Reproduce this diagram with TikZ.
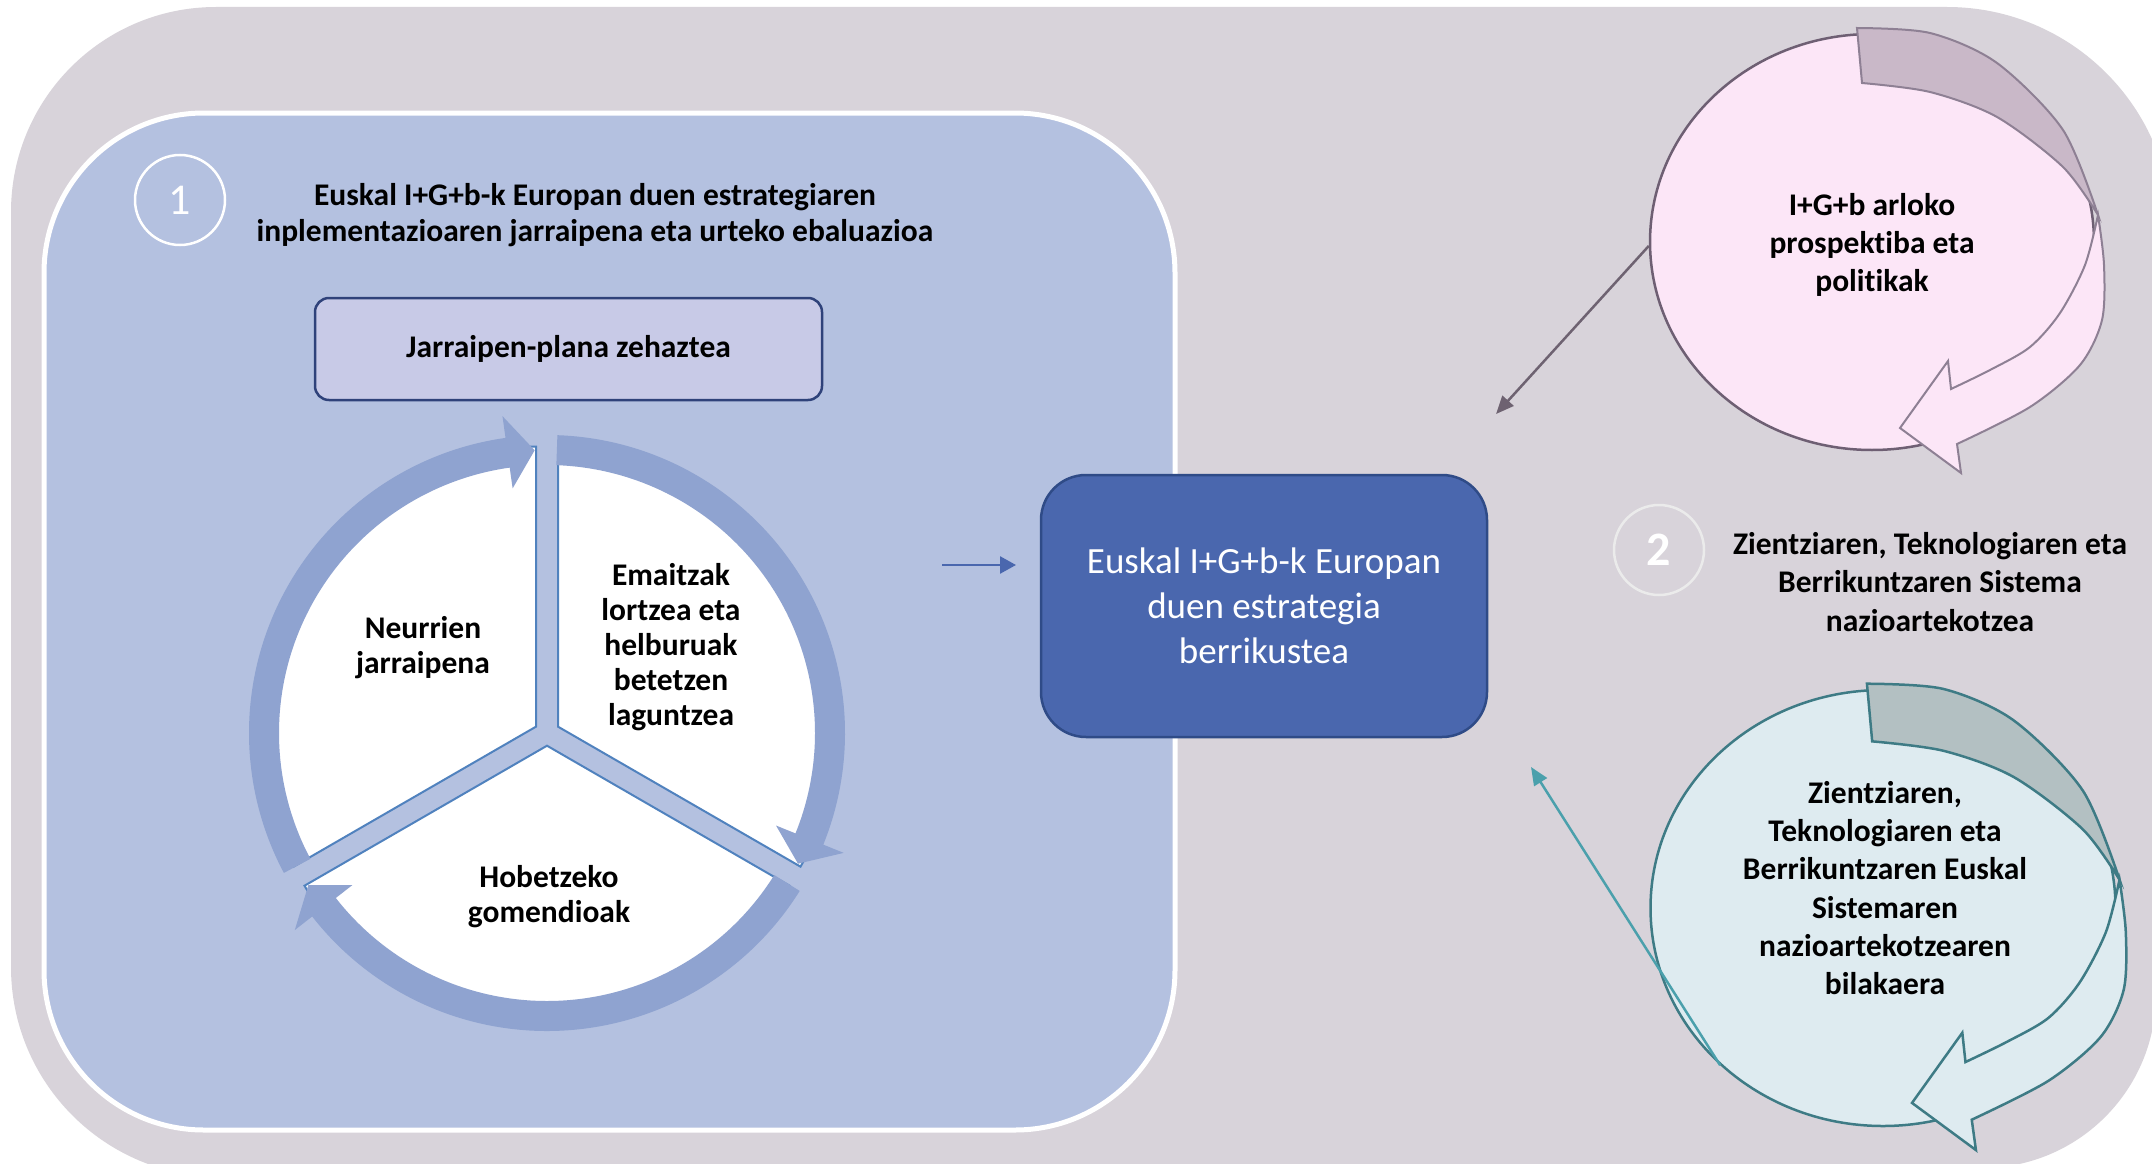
\documentclass[tikz,border=0pt]{standalone}
\usepackage{fontspec}
\setmainfont{Carlito}[Ligatures=NoCommon]
\usetikzlibrary{arrows.meta, shapes.geometric, positioning, calc}
\definecolor{bggray}{RGB}{216,211,218}
\definecolor{panelblue}{RGB}{180,193,224}
\definecolor{ringblue}{RGB}{143,163,208}
\definecolor{sectorline}{RGB}{80,130,190}
\definecolor{planlav}{RGB}{200,202,231}
\definecolor{planline}{RGB}{47,66,122}
\definecolor{reviewblue}{RGB}{74,103,174}
\definecolor{reviewline}{RGB}{47,75,135}
\definecolor{pinkfill}{RGB}{252,230,247}
\definecolor{pinkback}{RGB}{201,184,200}
\definecolor{pinkline}{RGB}{142,128,148}
\definecolor{pinkrim}{RGB}{110,95,115}
\definecolor{tealfill}{RGB}{222,235,240}
\definecolor{tealback}{RGB}{179,192,194}
\definecolor{tealline}{RGB}{62,123,133}
\definecolor{linkpurple}{RGB}{110,98,113}
\definecolor{linkteal}{RGB}{75,160,172}
\tikzset{
  stage/.style={rectangle,draw=white,line width=5pt,fill=panelblue,rounded corners=160pt,inner sep=0pt},
  numcirc/.style={circle,draw=white,line width=2.5pt,minimum size=90pt,inner sep=0pt,text=white,font=\fontsize{44}{44}\selectfont},
  numcircb/.style={numcirc,draw=white!92!black,font=\fontsize{48}{48}\selectfont\bfseries},
  lbl/.style={align=center,inner sep=0pt,font=\fontsize{31.5}{38.3}\selectfont\bfseries},
  titlelbl/.style={lbl,font=\fontsize{31.5}{36}\selectfont\bfseries},
  sectorlbl/.style={lbl,font=\fontsize{31.5}{35}\selectfont\bfseries},
  planbox/.style={rectangle,rounded corners=14pt,fill=planlav,draw=planline,line width=2.5pt,minimum width=507pt,minimum height=102pt,font=\fontsize{31.5}{36}\selectfont\bfseries},
  reviewbox/.style={rectangle,rounded corners=45pt,fill=reviewblue,draw=reviewline,line width=2.5pt,minimum width=446pt,minimum height=262pt,text=white,align=center,font=\fontsize{37}{45}\selectfont},
  sector/.style={fill=white,draw=sectorline,line width=2pt},
  ringarrow/.style={fill=ringblue},
  pinkcirc/.style={ellipse,fill=pinkfill,draw=pinkrim,line width=2.5pt,minimum width=444pt,minimum height=416pt},
  tealcirc/.style={ellipse,fill=tealfill,draw=tealline,line width=2.5pt,minimum width=465pt,minimum height=436pt},
  pinkrear/.style={fill=pinkback,draw=pinkline,line width=2pt},
  pinkfront/.style={fill=pinkfill,draw=pinkline,line width=2pt},
  tealrear/.style={fill=tealback,draw=tealline,line width=2.5pt},
  tealfront/.style={fill=tealfill,draw=tealline,line width=2.5pt},
  feed/.style={draw=reviewblue,line width=2.5pt,-{Triangle[length=16pt,width=17pt]}},
  pinklink/.style={draw=linkpurple,line width=2.5pt,-{Triangle[length=18pt,width=15pt]}},
  teallink/.style={draw=linkteal,line width=2.5pt,-{Triangle[length=18pt,width=15pt]}},
}
% twisted loop arrow laid over the circles
\newcommand{\ribbonloop}[2]{%
  \filldraw[#1] plot[smooth] coordinates {(1857,-28) (1930,-33) (1997,-63) (2063,-130) (2098,-215)}
    -- plot[smooth] coordinates {(2098,-215) (2063,-167) (1997,-117) (1930,-92) (1862,-83)} -- cycle;
  \filldraw[#2] plot[smooth] coordinates {(2098,-215) (2104,-265) (2102,-320) (2080,-365) (2030,-407) (1957,-444)}
    -- (1961,-473) -- (1900,-428) -- (1948,-361) -- (1951,-389)
    -- plot[smooth] coordinates {(1951,-389) (1990,-370) (2030,-347) (2060,-313) (2085,-265) (2098,-215)} -- cycle;
}

\begin{document}
\begin{tikzpicture}[x=1pt,y=1pt]
  \useasboundingbox (0,0) rectangle (2152,-1164);
  \clip (0,0) rectangle (2152,-1164);
  \fill[white] (0,0) rectangle (2152,-1164);
  \fill[bggray] (11,-212) arc[start angle=180,end angle=90,radius=205]
    -- (1947,-7) arc[start angle=90,end angle=0,radius=225]
    -- (2156,-994) arc[start angle=0,end angle=-90,radius=174]
    -- (221,-1177) arc[start angle=-90,end angle=-180,radius=210] -- cycle;

  % part 1
  \node[stage,minimum width=1131pt,minimum height=1017pt] (stage1) at (609.5,-621.5) {};
  \node[numcirc] (num1) at (180,-200) {1};
  \node[titlelbl] (title1) at (595,-215) {Euskal I+G+b-k Europan duen estrategiaren\\inplementazioaren jarraipena eta urteko ebaluazioa};
  \node[planbox] (plan) at (568.5,-349) {Jarraipen-plana zehaztea};

  \coordinate (cyc) at (547,-733);
  \foreach \bis in {150,30,270}
    \filldraw[sector] ([shift={(cyc)}]\bis:12.7) -- ++({\bis-60}:280)
      arc[start angle={\bis-60},delta angle=120,radius=280] -- cycle;
  \foreach \from/\neck/\point in {208/98/92.5, 88/-22/-27.5, -32/-142/-147.5}
    \fill[ringarrow] ([shift={(cyc)}]\from:268) arc[start angle=\from,end angle=\neck,radius=268]
      -- ([shift={(cyc)}]\neck:247) -- ([shift={(cyc)}]\point:283) -- ([shift={(cyc)}]\neck:320)
      -- ([shift={(cyc)}]\neck:298) arc[start angle=\neck,end angle=\from,radius=298] -- cycle;
  \node[sectorlbl] (measures) at (423,-648) {Neurrien\\jarraipena};
  \node[sectorlbl] (results) at (671,-647) {Emaitzak\\lortzea eta\\helburuak\\betetzen\\laguntzea};
  \node[sectorlbl] (advice) at (549,-897) {Hobetzeko\\gomendioak};

  % review box
  \node[reviewbox] (review) at (1264,-606) {Euskal I+G+b-k Europan\\duen estrategia\\berrikustea};
  \coordinate (feedin) at (942,-565);
  \coordinate (feedout) at (1016,-565);
  \draw[feed] (feedin) -- (feedout);

  % part 2
  \node[numcircb] (num2) at (1659,-550) {2};
  \node[lbl] (title2) at (1930,-582) {Zientziaren, Teknologiaren eta\\Berrikuntzaren Sistema\\nazioartekotzea};

  \node[pinkcirc] (policy) at (1872,-242) {};
  \ribbonloop{pinkrear}{pinkfront}
  \node[lbl] (policylbl) at (1872,-245) {I+G+b arloko\\prospektiba eta\\politikak};
  \coordinate (policytip) at (1496,-414);
  \draw[pinklink] (policy.181) -- (policytip);

  \node[tealcirc] (system) at (1883,-908) {};
  \begin{scope}[shift={(1650,-690)},scale=1.048,shift={(-1650,34)}]
    \ribbonloop{tealrear}{tealfront}
  \end{scope}
  \node[lbl] (systemlbl) at (1885,-888) {Zientziaren,\\Teknologiaren eta\\Berrikuntzaren Euskal\\Sistemaren\\nazioartekotzearen\\bilakaera};
  \coordinate (systemtip) at (1531,-767);
  \draw[teallink] (system.224) -- (systemtip);
\end{tikzpicture}
\end{document}
